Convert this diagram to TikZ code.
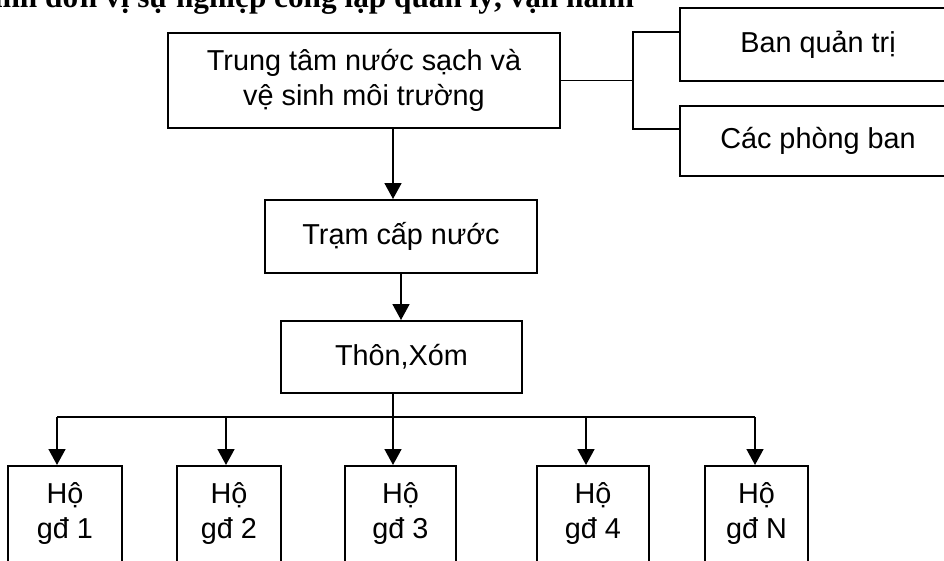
\documentclass[tikz,border=0pt]{standalone}
\usepackage{fontspec}
\setmainfont{Liberation Sans}
\newfontfamily\titlefont{Liberation Serif}
\usetikzlibrary{arrows.meta}

\begin{document}
\begin{tikzpicture}[x=0.02cm, y=-0.02cm, line width=1.1pt,
	box/.style={draw, line width=1.1pt, align=center, inner sep=0pt, font=\fontsize{16.4pt}{19.8pt}\selectfont},
	hobox/.style={box, anchor=north, inner ysep=4pt, text height=37pt, text depth=40pt},
	arr/.style={-{Triangle[length=9pt, width=9.5pt]}}]
	\useasboundingbox (0,0) rectangle (944,561);
	\clip (0,0) rectangle (944,561);
	\node[anchor=base east, inner sep=0pt, font=\titlefont\bfseries\fontsize{17.8pt}{21pt}\selectfont] (title) at (635,8) {Mô hình đơn vị sự nghiệp công lập quản lý, vận hành};
	\node[box, minimum width=7.84cm, minimum height=1.9cm] (ttam) at (364,80.5) {Trung tâm nước sạch và\\vệ sinh môi trường};
	\node[box, minimum width=5.52cm, minimum height=1.46cm] (ban) at (818,44.5) {Ban quản trị};
	\node[box, minimum width=5.52cm, minimum height=1.4cm] (phong) at (818,141) {Các phòng ban};
	\node[box, minimum width=5.44cm, minimum height=1.46cm] (tram) at (401,236.5) {Trạm cấp nước};
	\node[box, minimum width=4.82cm, minimum height=1.44cm] (thon) at (401.5,357) {Thôn,Xóm};
	\foreach \i/\c/\w/\t in {1/65/2.28/gđ 1, 2/229/2.08/gđ 2, 3/400.5/2.22/gđ 3, 4/593/2.24/gđ 4, 5/756.5/2.06/gđ N}
		\node[hobox, minimum width=\w cm] (ho\i) at (\c,465) {Hộ\\\t};
	% nhanh ben phai
	\coordinate (fork) at (633,80.5);
	\draw (ttam.east) -- (fork);
	\draw (ban.west |- ttam.north) -| (fork) |- (phong.west |- ttam.south);
	% truc giua
	\coordinate (spine) at (393,0);
	\draw[arr] (ttam.south -| spine) -- (tram.north -| spine);
	\draw[arr] (tram.south) -- (tram.south |- thon.north);
	\coordinate (bus) at (0,417);
	\draw (thon.south -| spine) -- (bus -| spine);
	\foreach \i/\x in {1/57, 2/226, 3/393, 4/586, 5/755}
		\coordinate (b\i) at (\x,417);
	\draw (b1) -- (b5);
	\foreach \i in {1,...,5}
		\draw[arr] (b\i) -- (b\i |- ho\i.north);
\end{tikzpicture}
\end{document}
